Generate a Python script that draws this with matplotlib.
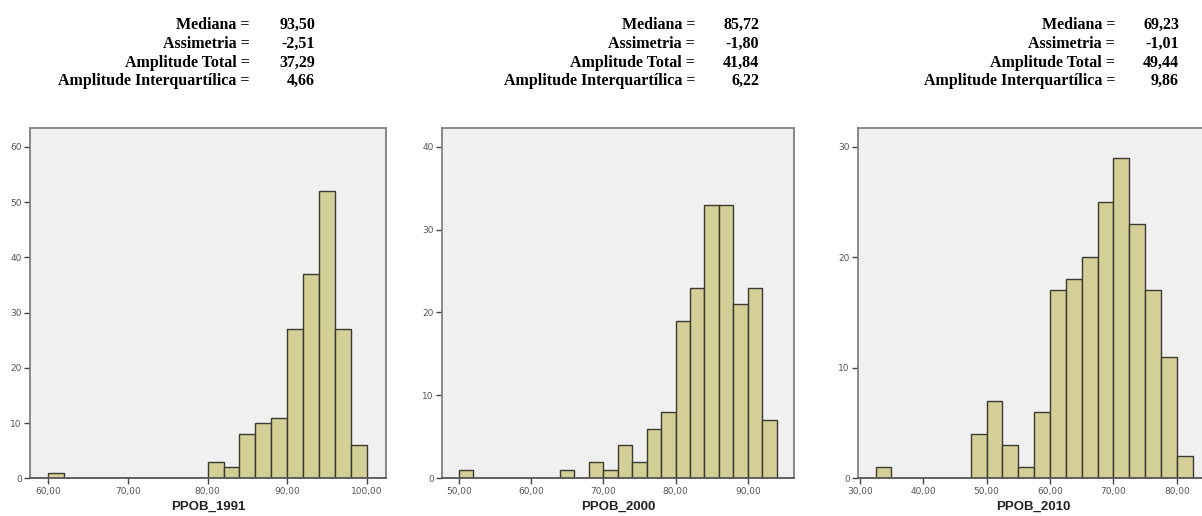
import matplotlib.pyplot as plt
from matplotlib.ticker import FuncFormatter

# Histogram bins (left edges) and counts
edges_1991 = [60, 80, 82, 84, 86, 88, 90, 92, 94, 96, 98]
counts_1991 = [1, 3, 2, 8, 10, 11, 27, 37, 52, 27, 6]

edges_2000 = [50, 64, 68, 70, 72, 74, 76, 78, 80, 82, 84, 86, 88, 90, 92]
counts_2000 = [1, 1, 2, 1, 4, 2, 6, 8, 19, 23, 33, 33, 21, 23, 7]

edges_2010 = [32.5, 47.5, 50, 52.5, 55, 57.5, 60, 62.5, 65, 67.5, 70, 72.5, 75, 77.5, 80]
counts_2010 = [1, 4, 7, 3, 1, 6, 17, 18, 20, 25, 29, 23, 17, 11, 2]

names = ["PPOB_1991", "PPOB_2000", "PPOB_2010"]
widths = [2, 2, 2.5]
stat_labels = ["Mediana =", "Assimetria =", "Amplitude Total =",
               "Amplitude Interquartílica ="]
stat_values = [["93,50", "-2,51", "37,29", "4,66"],
               ["85,72", "-1,80", "41,84", "6,22"],
               ["69,23", "-1,01", "49,44", "9,86"]]
xticks = [[60, 70, 80, 90, 100], [50, 60, 70, 80, 90], [30, 40, 50, 60, 70, 80]]
yticks = [[0, 10, 20, 30, 40, 50, 60], [0, 10, 20, 30, 40], [0, 10, 20, 30]]
xlims = [(57.7, 102.4), (47.65, 96.4), (29.73, 84.9)]
ylims = [63.4, 42.25, 31.7]

edges = [edges_1991, edges_2000, edges_2010]
counts = [counts_1991, counts_2000, counts_2010]

W, H = 1202, 516
fig = plt.figure(figsize=(W / 100, H / 100), dpi=100)

# axes boxes in pixels: left, right
boxes = [(30, 386), (442, 794), (858, 1208)]
top, bottom = 128, 478.3
label_right = [250, 695, 1115]
value_right = [315, 759, 1179]
baselines = [29, 48, 67, 85]

for i in range(3):
    l, r = boxes[i]
    ax = fig.add_axes([l / W, (H - bottom) / H, (r - l) / W, (bottom - top) / H])
    ax.set_facecolor("#F0F0F0")
    ax.bar(edges[i], counts[i], width=widths[i], align="edge",
           color="#D3CF96", edgecolor="#3A3A30", linewidth=1.0, zorder=2)
    ax.set_xlim(*xlims[i])
    ax.set_ylim(0, ylims[i])
    ax.set_xticks(xticks[i])
    ax.set_yticks(yticks[i])
    ax.xaxis.set_major_formatter(FuncFormatter(lambda v, p: f"{v:.2f}".replace(".", ",")))
    ax.tick_params(axis="both", labelsize=6.5, labelcolor="#555555", color="#444444",
                   length=4, width=1, pad=2)
    for s in ax.spines.values():
        s.set_color("#808080")
        s.set_linewidth(1.3)
    ax.spines["bottom"].set_color("#555555")
    ax.set_xlabel(names[i], fontsize=9.5, fontweight="bold", color="#222222",
                  family="Liberation Sans", labelpad=4)

    for j in range(4):
        y = 1 - baselines[j] / H
        fig.text(label_right[i] / W, y, stat_labels[j], ha="right", va="baseline",
                 family="Liberation Serif", fontweight="bold", fontsize=11.5)
        fig.text(value_right[i] / W, y, stat_values[i][j], ha="right", va="baseline",
                 family="Liberation Serif", fontweight="bold", fontsize=11.5)

fig.savefig("out.png", dpi=100)
